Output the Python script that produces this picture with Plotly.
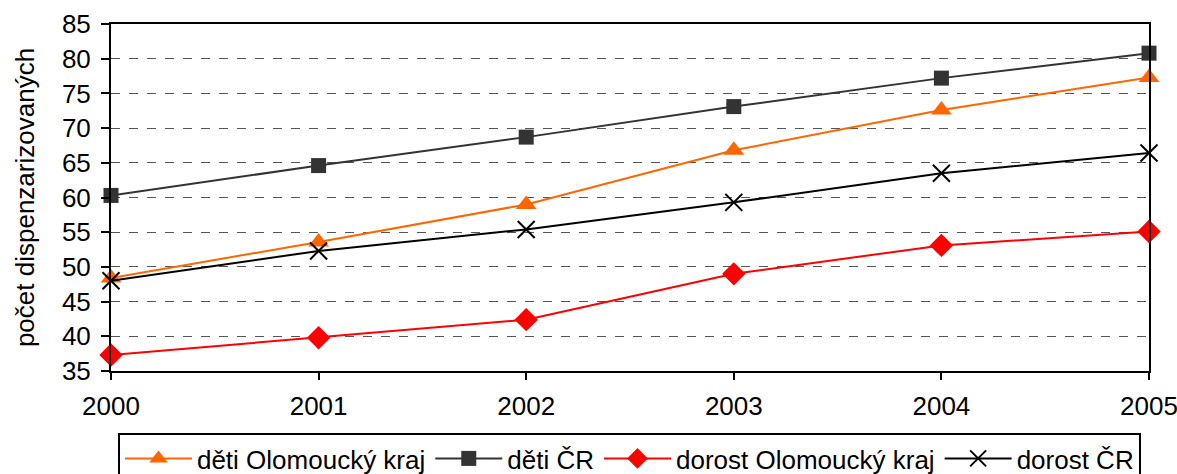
import plotly.graph_objects as go

years = [2000, 2001, 2002, 2003, 2004, 2005]
deti_olomoucky = [48.4, 53.6, 59.0, 66.8, 72.6, 77.3]
deti_cr = [60.3, 64.6, 68.7, 73.1, 77.2, 80.8]
dorost_olomoucky = [37.3, 39.8, 42.4, 49.0, 53.1, 55.1]
dorost_cr = [48.0, 52.3, 55.4, 59.3, 63.5, 66.4]
y_ticks = [35, 40, 45, 50, 55, 60, 65, 70, 75, 80, 85]

fig = go.Figure()
fig.add_trace(go.Scatter(x=years, y=deti_olomoucky, name="děti Olomoucký kraj",
                         mode="lines+markers", line=dict(color="#FF6600", width=2),
                         marker=dict(symbol="triangle-up", size=18, color="#FF6600"),
                         cliponaxis=False))
fig.add_trace(go.Scatter(x=years, y=deti_cr, name="děti ČR",
                         mode="lines+markers", line=dict(color="#333333", width=2),
                         marker=dict(symbol="square", size=15, color="#333333"),
                         cliponaxis=False))
fig.add_trace(go.Scatter(x=years, y=dorost_olomoucky, name="dorost Olomoucký kraj",
                         mode="lines+markers", line=dict(color="#FF0000", width=2),
                         marker=dict(symbol="diamond", size=18, color="#FF0000"),
                         cliponaxis=False))
fig.add_trace(go.Scatter(x=years, y=dorost_cr, name="dorost ČR",
                         mode="lines+markers", line=dict(color="#000000", width=2),
                         marker=dict(symbol="x-thin", size=17, color="#000000",
                                     line=dict(color="#000000", width=2)),
                         cliponaxis=False))

fig.update_layout(
    width=1177, height=474,
    margin=dict(l=111, r=28, t=24, b=103, autoexpand=False),
    paper_bgcolor="white", plot_bgcolor="white",
    font=dict(family="Liberation Sans, Arial, sans-serif", size=26, color="black"),
    showlegend=True,
    legend=dict(orientation="h", x=0.0067, y=-0.1787, xanchor="left", yanchor="top",
                bordercolor="black", borderwidth=2, font=dict(size=26),
                itemwidth=67, tracegroupgap=0),
)
fig.update_xaxes(range=[2000, 2005], tickvals=years, ticktext=[str(y) for y in years],
                 showline=True, linecolor="black", linewidth=2, mirror=True,
                 ticks="outside", ticklen=7, tickwidth=2, tickcolor="black",
                 showgrid=False, zeroline=False, tickfont=dict(size=26),
                 ticklabeloverflow="allow", ticklabelstandoff=4)
fig.update_yaxes(range=[35, 85], tickvals=y_ticks,
                 showline=True, linecolor="black", linewidth=2, mirror=True,
                 ticks="outside", ticklen=8, tickwidth=2, tickcolor="black",
                 showgrid=True, gridcolor="#555555", griddash="dash", gridwidth=1,
                 zeroline=False, tickfont=dict(size=26), ticklabelstandoff=5,
                 title=dict(text="počet dispenzarizovaných", font=dict(size=26), standoff=20))

fig.write_html("out.html", config={"displayModeBar": False},
               post_script="document.body.style.margin='0';document.body.style.overflow='hidden';")
